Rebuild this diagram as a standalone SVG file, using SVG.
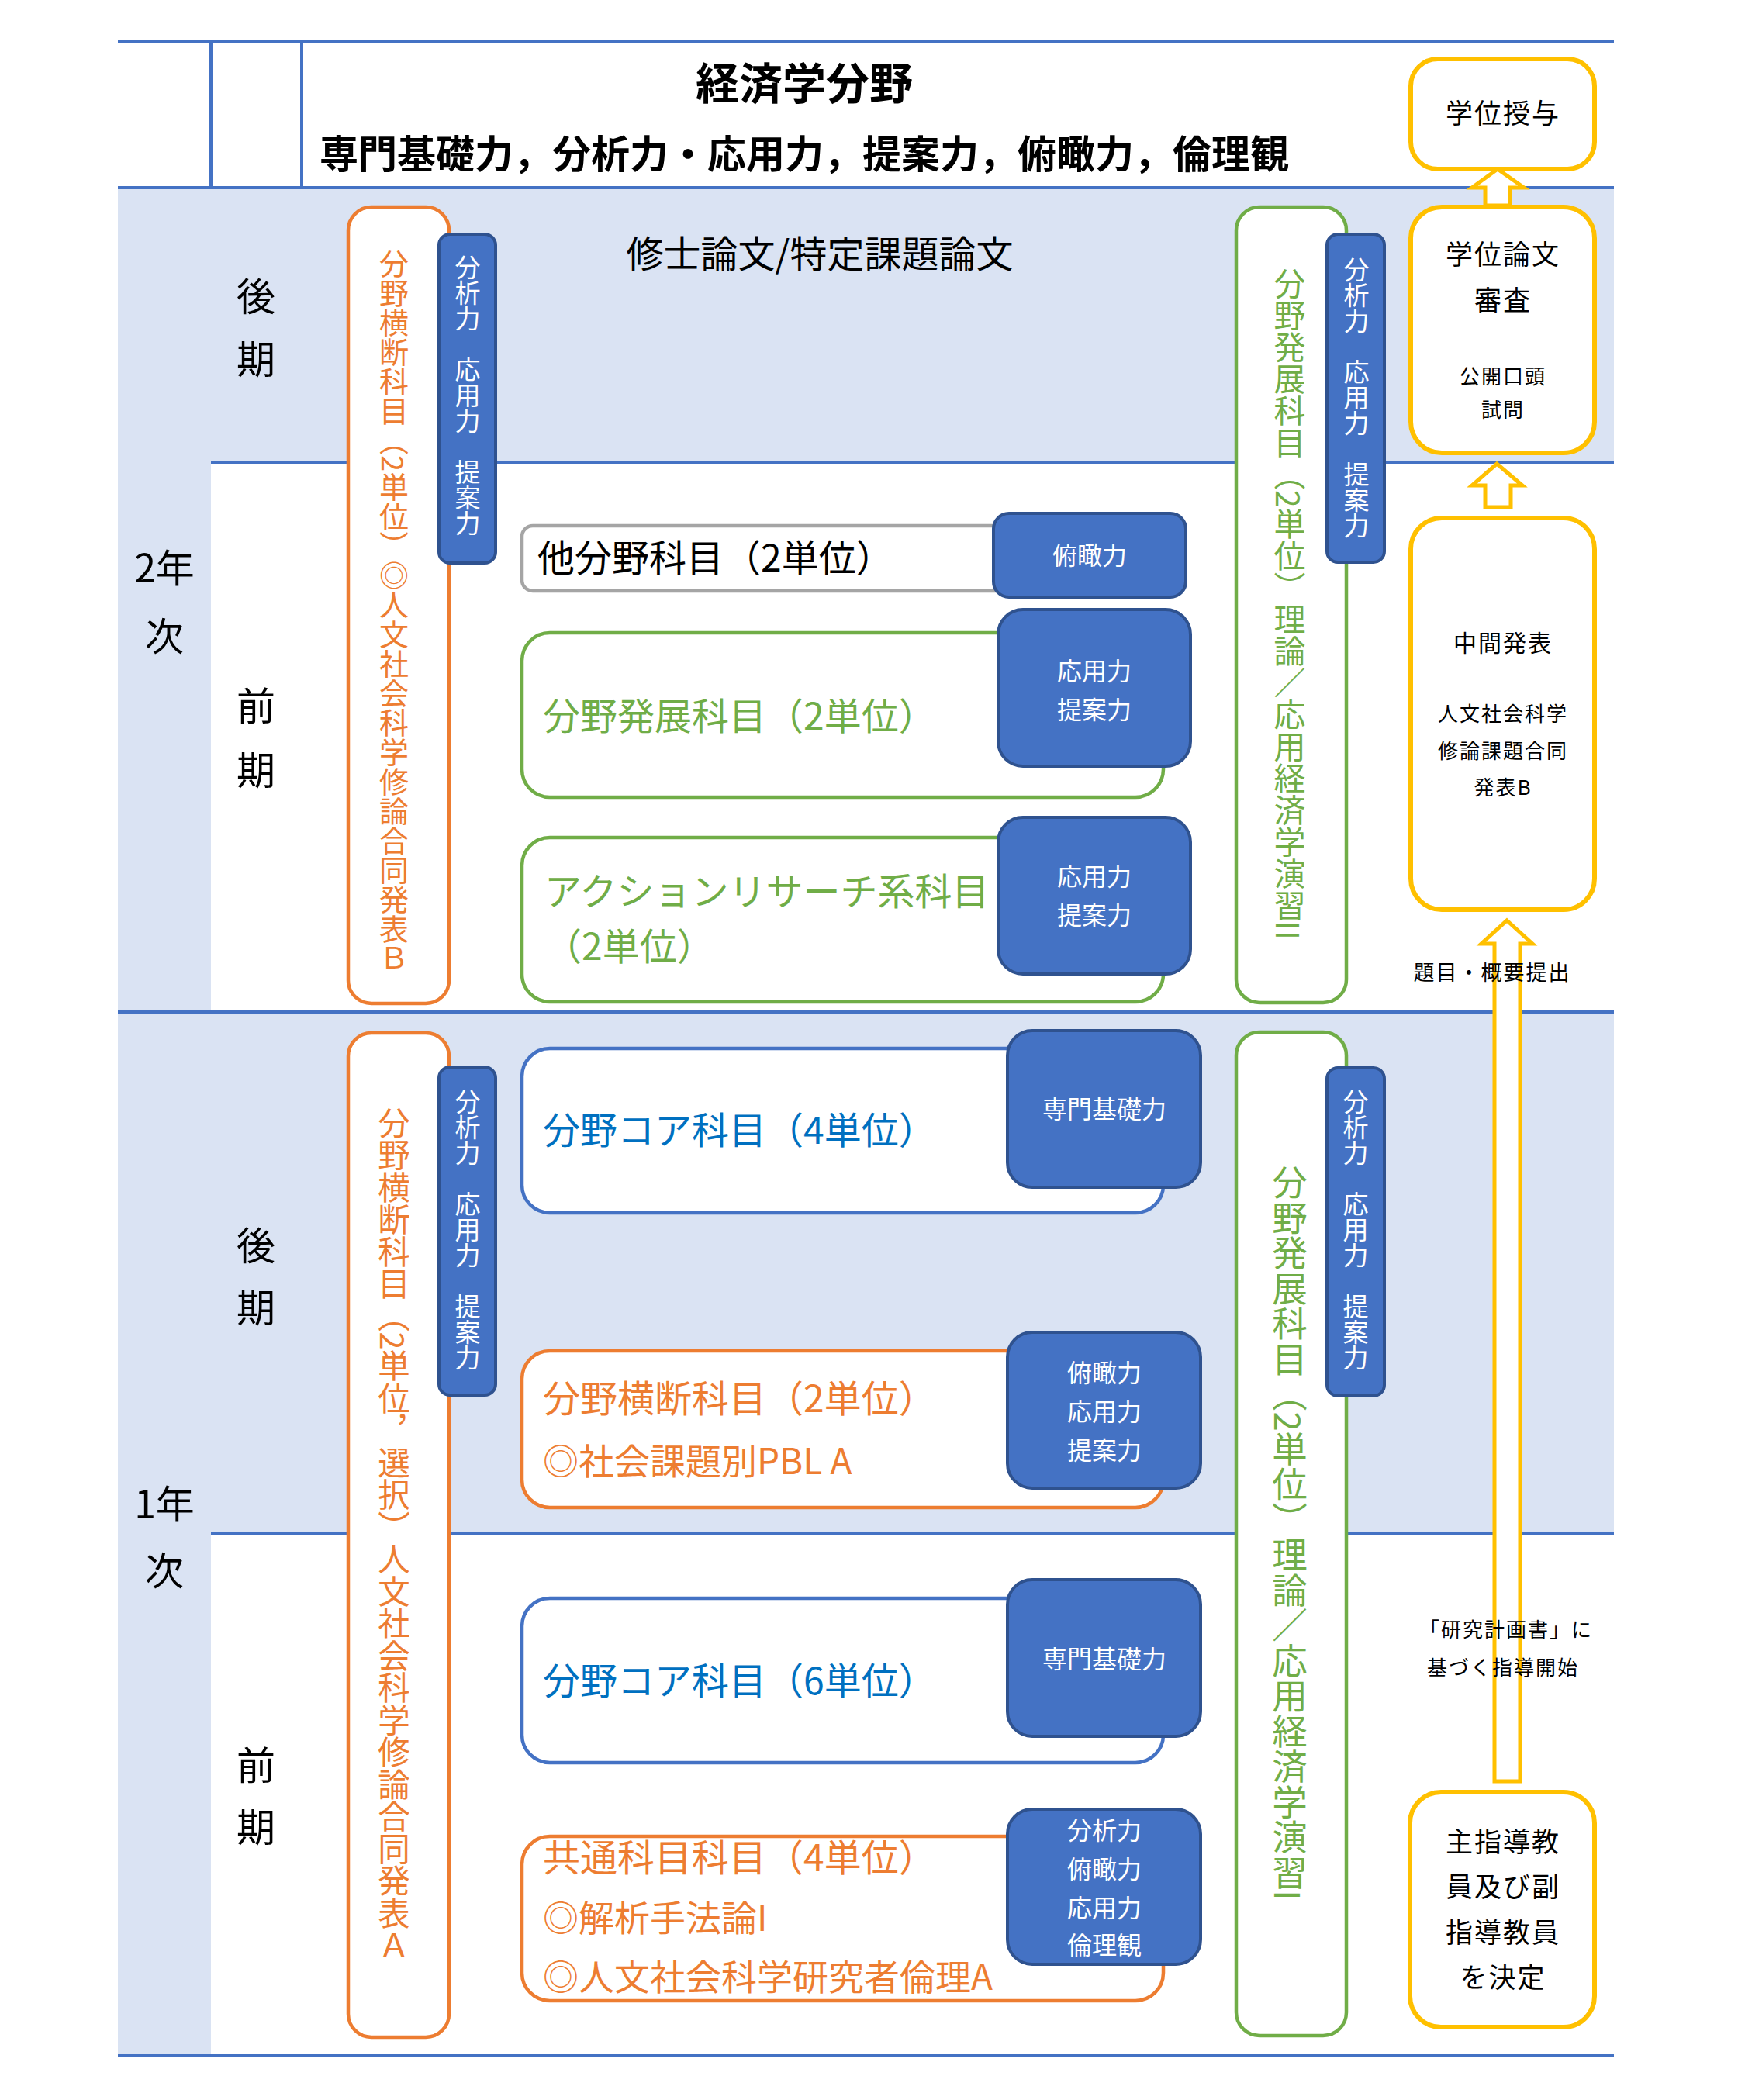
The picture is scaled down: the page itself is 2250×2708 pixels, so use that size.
<svg xmlns="http://www.w3.org/2000/svg" width="2250" height="2708" viewBox="0 0 2250 2708">
<style>
text{font-family:"Noto Sans CJK JP","Noto Sans",sans-serif;}
.band{fill:#DAE3F3;}
.rule{stroke:#4472C4;stroke-width:4;fill:none;}
.box{fill:#fff;stroke-width:4.5;}
.og{stroke:#ED7D31;}
.gr{stroke:#70AD47;}
.bl{stroke:#4472C4;}
.gy{stroke:#A5A5A5;}
.tag{fill:#4472C4;stroke:#2F528F;stroke-width:4;}
.yb{fill:#fff;stroke:#FFC000;stroke-width:6;}
.arr{fill:#fff;stroke:#FFC000;stroke-width:5;stroke-linejoin:miter;}
.vt{writing-mode:vertical-rl;}
.tw{fill:#fff;font-size:32px;text-anchor:middle;}
.lbl{font-size:48px;}
.term{font-size:50px;text-anchor:middle;fill:#000;}
.ytx{fill:#000;text-anchor:middle;letter-spacing:2px;}
</style>

<g id="background">
<rect class="band" x="152" y="242" width="1929" height="354"/>
<rect class="band" x="152" y="1305" width="1929" height="672"/>
<rect class="band" x="152" y="242" width="120" height="2409"/>
<path class="rule" d="M152 53H2081M152 242H2081M272 596H2081M152 1305H2081M272 1977H2081M152 2651H2081M272 53V242M389 53V242"/>
</g>

<g id="header">
<text x="1037" y="128" font-size="56" font-weight="bold" text-anchor="middle" fill="#000">経済学分野</text>
<text x="1037" y="217" font-size="50" font-weight="bold" text-anchor="middle" fill="#000">専門基礎力，分析力・応用力，提案力，俯瞰力，倫理観</text>
</g>

<g id="terms">
<text class="term" x="212" y="751">2年</text>
<text class="term" x="212" y="839">次</text>
<text class="term" x="330" y="401">後</text>
<text class="term" x="330" y="482">期</text>
<text class="term" x="330" y="929">前</text>
<text class="term" x="330" y="1012">期</text>
<text class="term" x="212" y="1958">1年</text>
<text class="term" x="212" y="2044">次</text>
<text class="term" x="330" y="1625">後</text>
<text class="term" x="330" y="1705">期</text>
<text class="term" x="330" y="2295">前</text>
<text class="term" x="330" y="2375">期</text>
</g>

<g id="thesis">
<text x="1057" y="345" font-size="48" text-anchor="middle" fill="#000">修士論文/特定課題論文</text>
</g>

<g id="y2-cross">
<rect class="box og" x="449" y="267" width="130" height="1027" rx="30"/>
<text class="vt" x="508" y="321" font-size="38" fill="#ED7D31">分野横断科目（2単位）◎人文社会科学修論合同発表Ｂ</text>
<rect class="tag" x="566" y="302" width="73" height="424" rx="14"/>
<text class="vt" x="603" y="328" font-size="33" fill="#fff">分析力　応用力　提案力</text>
</g>

<g id="y2-dev-vertical">
<rect class="box gr" x="1594" y="267" width="142" height="1026" rx="30"/>
<text class="vt" x="1663" y="345" font-size="41" fill="#70AD47">分野発展科目（2単位）理論／応用経済学演習II</text>
<rect class="tag" x="1711" y="302" width="74" height="423" rx="14"/>
<text class="vt" x="1749" y="331" font-size="33" fill="#fff">分析力　応用力　提案力</text>
</g>

<g id="y2-other">
<rect class="box gy" x="673" y="678" width="830" height="84" rx="14"/>
<text x="693" y="737" class="lbl" fill="#000">他分野科目（2単位）</text>
<rect class="tag" x="1281" y="662" width="248" height="108" rx="20"/>
<text class="tw" x="1405" y="728">俯瞰力</text>
</g>

<g id="y2-dev">
<rect class="box gr" x="673" y="816" width="827" height="212" rx="36"/>
<text x="700" y="941" class="lbl" fill="#70AD47">分野発展科目（2単位）</text>
<rect class="tag" x="1287" y="786" width="248" height="202" rx="32"/>
<text class="tw" x="1411" y="877">応用力</text>
<text class="tw" x="1411" y="927">提案力</text>
</g>

<g id="y2-action">
<rect class="box gr" x="673" y="1080" width="827" height="212" rx="36"/>
<text x="702" y="1167" class="lbl" fill="#70AD47">アクションリサーチ系科目</text>
<text x="702" y="1238" class="lbl" fill="#70AD47">（2単位）</text>
<rect class="tag" x="1287" y="1054" width="248" height="202" rx="32"/>
<text class="tw" x="1411" y="1142">応用力</text>
<text class="tw" x="1411" y="1192">提案力</text>
</g>

<g id="y1-cross">
<rect class="box og" x="449" y="1332" width="130" height="1295" rx="30"/>
<text class="vt" x="508" y="1427" font-size="41.5" fill="#ED7D31">分野横断科目（2単位，選択）人文社会科学修論合同発表Ａ</text>
<rect class="tag" x="566" y="1376" width="73" height="423" rx="14"/>
<text class="vt" x="603" y="1404" font-size="33" fill="#fff">分析力　応用力　提案力</text>
</g>

<g id="y1-dev-vertical">
<rect class="box gr" x="1594" y="1331" width="142" height="1294" rx="30"/>
<text class="vt" x="1663" y="1502" font-size="45.5" fill="#70AD47">分野発展科目（2単位）理論／応用経済学演習I</text>
<rect class="tag" x="1711" y="1377" width="74" height="423" rx="14"/>
<text class="vt" x="1748" y="1404" font-size="33" fill="#fff">分析力　応用力　提案力</text>
</g>

<g id="y1-core4">
<rect class="box bl" x="673" y="1352" width="827" height="212" rx="36"/>
<text x="700" y="1475" class="lbl" fill="#0070C0">分野コア科目（4単位）</text>
<rect class="tag" x="1299" y="1329" width="249" height="202" rx="32"/>
<text class="tw" x="1424" y="1442">専門基礎力</text>
</g>

<g id="y1-cross-pbl">
<rect class="box og" x="673" y="1742" width="827" height="202" rx="36"/>
<text x="700" y="1821" class="lbl" fill="#ED7D31">分野横断科目（2単位）</text>
<text x="700" y="1901" font-size="46" fill="#ED7D31">◎社会課題別PBL A</text>
<rect class="tag" x="1299" y="1718" width="249" height="201" rx="32"/>
<text class="tw" x="1424" y="1782">俯瞰力</text>
<text class="tw" x="1424" y="1832">応用力</text>
<text class="tw" x="1424" y="1882">提案力</text>
</g>

<g id="y1-core6">
<rect class="box bl" x="673" y="2061" width="827" height="212" rx="36"/>
<text x="700" y="2185" class="lbl" fill="#0070C0">分野コア科目（6単位）</text>
<rect class="tag" x="1299" y="2037" width="249" height="202" rx="32"/>
<text class="tw" x="1424" y="2151">専門基礎力</text>
</g>

<g id="y1-common">
<rect class="box og" x="673" y="2368" width="827" height="212" rx="36"/>
<text x="700" y="2413" class="lbl" fill="#ED7D31">共通科目科目（4単位）</text>
<text x="700" y="2490" font-size="46" fill="#ED7D31">◎解析手法論I</text>
<text x="700" y="2566" font-size="46" fill="#ED7D31">◎人文社会科学研究者倫理A</text>
<rect class="tag" x="1299" y="2333" width="249" height="200" rx="32"/>
<text class="tw" x="1424" y="2372">分析力</text>
<text class="tw" x="1424" y="2422">俯瞰力</text>
<text class="tw" x="1424" y="2472">応用力</text>
<text class="tw" x="1424" y="2520">倫理観</text>
</g>

<g id="degree">
<rect class="yb" x="1819" y="76" width="237" height="142" rx="35"/>
<text class="ytx" x="1938" y="159" font-size="35">学位授与</text>
</g>

<g id="review">
<rect class="yb" x="1819" y="267" width="237" height="317" rx="40"/>
<text class="ytx" x="1938" y="341" font-size="35">学位論文</text>
<text class="ytx" x="1938" y="400" font-size="35">審査</text>
<text class="ytx" x="1938" y="495" font-size="26">公開口頭</text>
<text class="ytx" x="1938" y="538" font-size="26">試問</text>
</g>

<g id="interim">
<rect class="yb" x="1819" y="668" width="237" height="505" rx="40"/>
<text class="ytx" x="1938" y="840" font-size="30">中間発表</text>
<text class="ytx" x="1938" y="930" font-size="26">人文社会科学</text>
<text class="ytx" x="1938" y="978" font-size="26">修論課題合同</text>
<text class="ytx" x="1938" y="1025" font-size="26">発表B</text>
</g>

<g id="advisor">
<rect class="yb" x="1818" y="2311" width="238" height="303" rx="40"/>
<text class="ytx" x="1938" y="2388" font-size="35">主指導教</text>
<text class="ytx" x="1938" y="2446" font-size="35">員及び副</text>
<text class="ytx" x="1938" y="2505" font-size="35">指導教員</text>
<text class="ytx" x="1938" y="2563" font-size="35">を決定</text>
</g>

<g id="connectors">
<polygon class="arr" points="1931,218 1965,242 1947,242 1947,265 1915,265 1915,242 1898,242"/>
<polygon class="arr" points="1930,598 1963,626 1948,626 1948,654 1915,654 1915,626 1898,626"/>
<polygon class="arr" points="1943,1187 1976,1217 1960,1217 1960,2297 1927,2297 1927,1217 1910,1217"/>
<text class="ytx" x="1924" y="1264" font-size="27">題目・概要提出</text>
<text class="ytx" x="1942" y="2111" font-size="26">「研究計画書」に</text>
<text class="ytx" x="1938" y="2160" font-size="26">基づく指導開始</text>
</g>
</svg>
